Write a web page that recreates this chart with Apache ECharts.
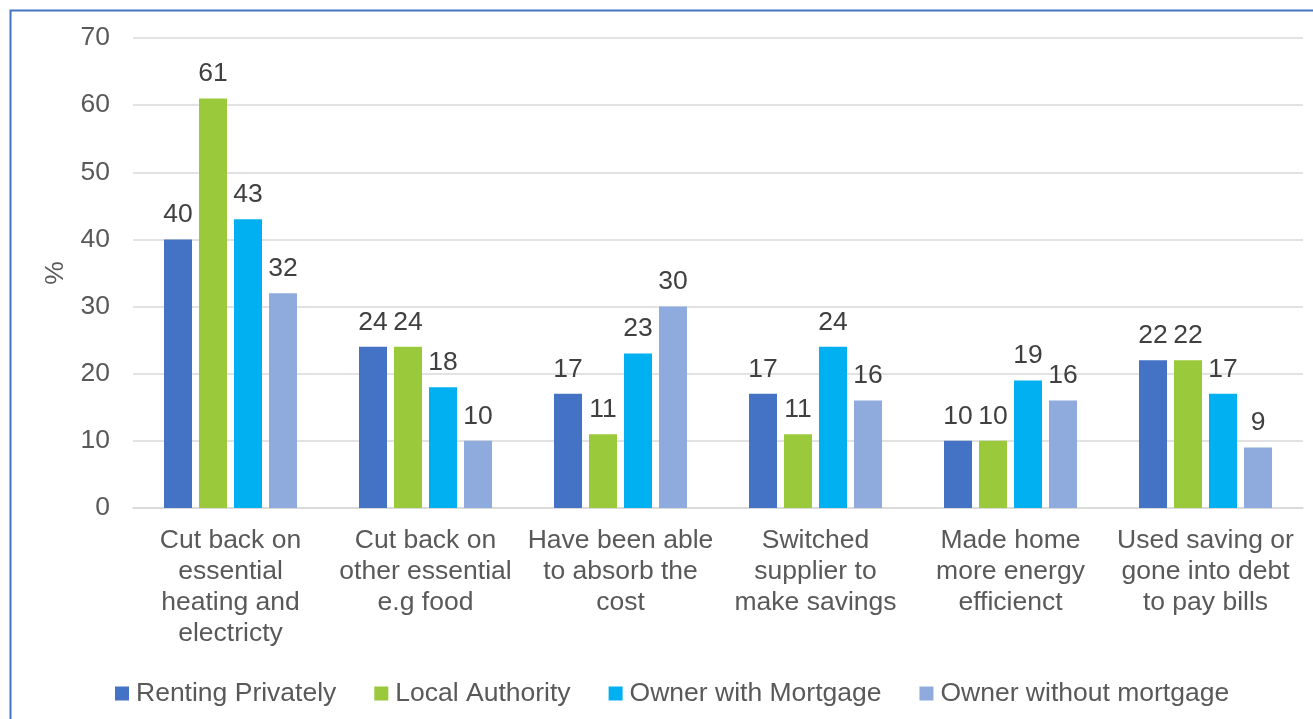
<!DOCTYPE html>
<html>
<head>
<meta charset="utf-8">
<script src="https://cdn.jsdelivr.net/npm/echarts@6/dist/echarts.min.js"></script>
<style>
  html, body { margin: 0; padding: 0; background: #ffffff; }
  #chart { width: 1313px; height: 719px; }
</style>
</head>
<body>
<div id="chart"></div>
<script>
// How households responded to higher energy costs, by tenure (%)
const categories = [
  'Cut back on\nessential\nheating and\nelectricty',
  'Cut back on\nother essential\ne.g food',
  'Have been able\nto absorb the\ncost',
  'Switched\nsupplier to\nmake savings',
  'Made home\nmore energy\nefficienct',
  'Used saving or\ngone into debt\nto pay bills'
];
const rentingPrivately = [40, 24, 17, 17, 10, 22];
const localAuthority = [61, 24, 11, 11, 10, 22];
const ownerWithMortgage = [43, 18, 23, 24, 19, 17];
const ownerWithoutMortgage = [32, 10, 30, 16, 16, 9];
const yTicks = { min: 0, max: 70, interval: 10 };

const FONT = "'Liberation Sans', Arial, sans-serif";
const TEXT = '#595959';
const SIZE = 26.5;

function barSeries(name, data, color) {
  return {
    name: name,
    type: 'bar',
    data: data,
    barWidth: 28,
    barGap: '25%',
    itemStyle: { color: color },
    label: {
      show: true,
      position: 'top',
      distance: 11,
      color: '#404040',
      fontSize: SIZE,
      fontFamily: FONT
    }
  };
}

const chart = echarts.init(document.getElementById('chart'), null, { renderer: 'canvas' });
chart.setOption({
  animation: false,
  backgroundColor: '#ffffff',
  textStyle: { fontFamily: FONT },
  graphic: [{
    type: 'rect',
    left: 8, top: 8,
    shape: { width: 1330, height: 730 },
    style: { fill: 'none', stroke: '#4472C4', lineWidth: 2 },
    silent: true,
    z: 100
  }],
  grid: { left: 133, right: 10, top: 38, bottom: 211, containLabel: false },
  legend: {
    left: 110,
    top: 675,
    itemWidth: 14,
    itemHeight: 14,
    itemGap: 38,
    icon: 'rect',
    textStyle: { color: TEXT, fontSize: SIZE, fontFamily: FONT, padding: [0, 0, 0, 2] },
    data: ['Renting Privately', 'Local Authority', 'Owner with Mortgage', 'Owner without mortgage']
  },
  xAxis: {
    type: 'category',
    data: categories,
    axisTick: { show: false },
    axisLine: { lineStyle: { color: '#D9D9D9', width: 1.5 } },
    axisLabel: {
      interval: 0,
      color: TEXT,
      fontSize: SIZE,
      lineHeight: 31,
      margin: 17,
      fontFamily: FONT
    }
  },
  yAxis: {
    type: 'value',
    min: yTicks.min,
    max: yTicks.max,
    interval: yTicks.interval,
    name: '%',
    nameLocation: 'middle',
    nameGap: 58,
    nameRotate: 90,
    nameTextStyle: { color: TEXT, fontSize: SIZE, fontFamily: FONT },
    axisLine: { show: false },
    axisTick: { show: false },
    axisLabel: { color: TEXT, fontSize: SIZE, margin: 23, fontFamily: FONT },
    splitLine: { lineStyle: { color: '#D9D9D9', width: 1.5 } }
  },
  series: [
    barSeries('Renting Privately', rentingPrivately, '#4472C4'),
    barSeries('Local Authority', localAuthority, '#9BC93C'),
    barSeries('Owner with Mortgage', ownerWithMortgage, '#00B0F0'),
    barSeries('Owner without mortgage', ownerWithoutMortgage, '#8FAADC')
  ]
});
</script>
</body>
</html>
